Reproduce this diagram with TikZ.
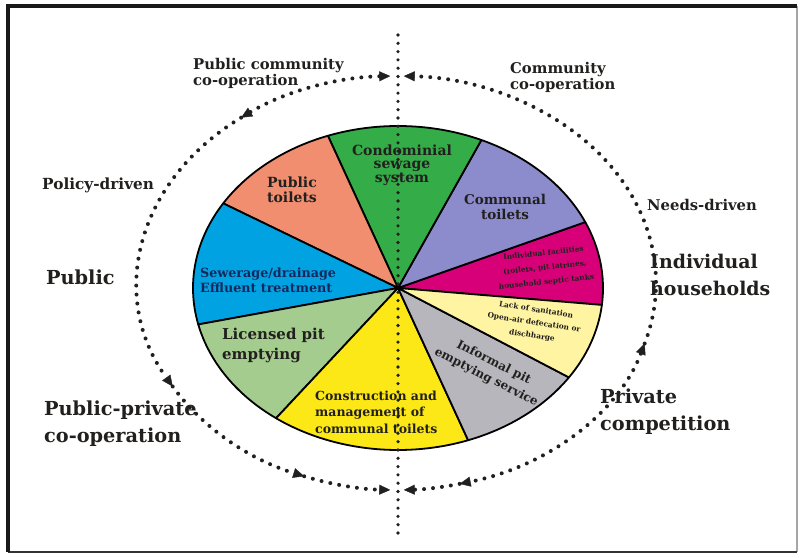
\documentclass[tikz,border=0pt]{standalone}
\usepackage{fontspec}
\setmainfont{DejaVu Serif}
\usetikzlibrary{arrows.meta}

\definecolor{cMag}{RGB}{216,0,120}
\definecolor{cPurple}{RGB}{140,140,204}
\definecolor{cGreen}{RGB}{52,172,72}
\definecolor{cSalmon}{RGB}{242,142,112}
\definecolor{cBlue}{RGB}{0,162,226}
\definecolor{cLgreen}{RGB}{164,204,142}
\definecolor{cYellow}{RGB}{252,232,22}
\definecolor{cGrey}{RGB}{182,182,188}
\definecolor{cLyellow}{RGB}{255,244,162}
\definecolor{cInk}{RGB}{34,32,30}
\definecolor{cNavy}{RGB}{22,40,92}

% one wedge of the ellipse
\newcommand{\sanwedge}[3]{%
  \filldraw[seg, fill=#3] (398,269) -- ++(#1:205pt and 162pt)
    arc[start angle=#1, end angle=#2, x radius=205pt, y radius=162pt] -- cycle;}
% a piece of the dotted ring
\newcommand{\ringpart}[3]{%
  \draw[ring, #3] (397,274) ++(#1:259pt and 207pt)
    arc[start angle=#1, end angle=#2, x radius=259pt, y radius=207pt];}

\begin{document}
\begin{tikzpicture}[x=1pt, y=1pt,
    seg/.style={draw=black, line width=1.8pt, line join=round},
    ring/.style={line width=4pt, line cap=round, dash pattern=on 0pt off 9pt, cInk},
    tipA/.style={-{Triangle[length=11pt, width=10pt, line width=0.4pt]}},
    tipB/.style={{Triangle[length=11pt, width=10pt, line width=0.4pt]}-{Triangle[length=11pt, width=10pt, line width=0.4pt]}},
    vline/.style={line width=3.6pt, line cap=round, dash pattern=on 0pt off 8.3pt, cInk},
    big/.style={font=\bfseries\fontsize{19.3}{27}\selectfont, text=cInk, inner sep=0pt, align=left, anchor=west},
    mid/.style={font=\bfseries\fontsize{14.8}{16.5}\selectfont, text=cInk, inner sep=0pt, align=left, anchor=west},
    inlbl/.style={font=\bfseries\fontsize{13.5}{15.5}\selectfont, text=cInk, inner sep=0pt, align=center},
    tiny/.style={font=\bfseries\fontsize{7.4}{13}\selectfont, text=cInk, inner sep=0pt, align=center}]
  \useasboundingbox (0,0) rectangle (800,557);
  %% frame
  \draw[line width=1.5pt, black!35] (797,5) -- (797,551);
  \draw[line width=2pt, black!80] (8,5) -- (797,5);
  \draw[line width=4pt, black!90] (8,5) -- (8,551) -- (797,551);

  %% wedges
  \sanwedge{-6}{24}{cMag}
  \sanwedge{24}{66}{cPurple}
  \sanwedge{66}{110}{cGreen}
  \sanwedge{110}{148.5}{cSalmon}
  \sanwedge{148.5}{193}{cBlue}
  \sanwedge{193}{233.5}{cLgreen}
  \sanwedge{233.5}{290}{cYellow}
  \sanwedge{290}{326.5}{cGrey}
  \sanwedge{326.5}{354}{cLyellow}

  %% wedge texts
  \node[inlbl, font=\bfseries\fontsize{14}{13.5}\selectfont] (condo) at (402,392) {Condominial\\sewage\\system};
  \node[inlbl, font=\bfseries\fontsize{14}{15}\selectfont] (pubtoil) at (292,367) {Public\\toilets};
  \node[inlbl] (commtoil) at (505,350) {Communal\\toilets};
  \node[tiny, font=\bfseries\fontsize{7.4}{14.5}\selectfont, rotate=6] (indfac) at (545,289) {Individual facilities\\(toilets, pit latrines,\\household septic tanks};
  \node[tiny, rotate=-9] (lack) at (534,234) {Lack of sanitation\\Open-air defecation or\\dischharge};
  \node[inlbl, font=\bfseries\fontsize{12}{16.5}\selectfont, rotate=-27] (informal) at (490,187) {Informal pit\\emptying service};
  \node[inlbl, anchor=west, align=left, font=\bfseries\fontsize{12.5}{16.5}\selectfont] (constr) at (315,145) {Construction and\\management of\\communal toilets};
  \node[inlbl, anchor=west, align=left, font=\bfseries\fontsize{15}{20}\selectfont] (licensed) at (222,212) {Licensed pit\\emptying};
  \node[inlbl, anchor=west, align=left, text=cNavy, font=\bfseries\fontsize{12.7}{15}\selectfont] (sewer) at (200,276.5) {Sewerage/drainage\\Effluent treatment};

  %% outside texts
  \node[mid] (pubcoop) at (193,483.5) {Public community\\co-operation};
  \node[mid, font=\bfseries\fontsize{14.8}{12.5}\selectfont] (comcoop) at (510,479.5) {Community\\co-operation};
  \node[mid, font=\bfseries\fontsize{15.3}{16.5}\selectfont] (policy) at (42,372) {Policy-driven};
  \node[mid] (needs) at (647,352) {Needs-driven};
  \node[big] (public) at (46,280) {Public};
  \node[big, font=\bfseries\fontsize{18.9}{27}\selectfont] (indiv) at (650,282) {Individual\\households};
  \node[big] (ppp) at (44,133.5) {Public-private\\co-operation};
  \node[big] (privcomp) at (600,145.5) {Private\\competition};

  %% dotted ring
  \ringpart{127}{91.5}{tipB}
  \ringpart{127}{210}{tipA}
  \ringpart{210}{249}{tipA}
  \ringpart{249}{268.5}{tipA}
  \ringpart{-17}{88.5}{tipA}
  \ringpart{343}{284}{tipB}
  \ringpart{284}{271.5}{tipA}

  %% dotted axis
  \coordinate (vtop) at (398,522);
  \coordinate (vbot) at (398,17);
  \draw[vline] (vtop) -- (vbot);
\end{tikzpicture}
\end{document}
